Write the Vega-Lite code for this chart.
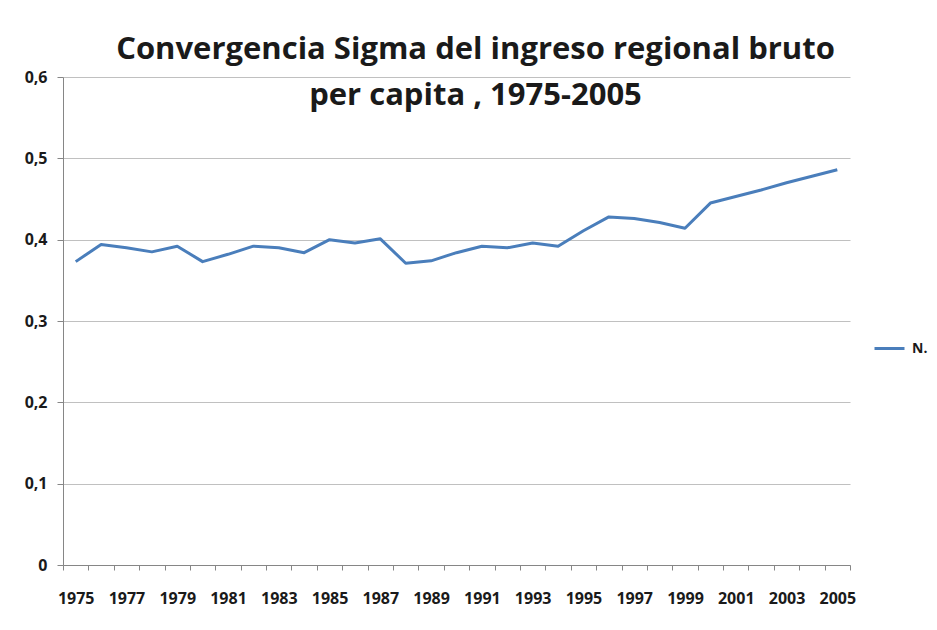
{
  "$schema": "https://vega.github.io/schema/vega-lite/v6.json",
  "width": 787,
  "height": 488,
  "autosize": {"type": "none"},
  "padding": {"left": 63, "top": 77, "right": 87, "bottom": 65},
  "background": "white",
  "title": {
    "text": ["Convergencia Sigma del ingreso regional bruto", "per capita , 1975-2005"],
    "anchor": "middle",
    "frame": "group",
    "font": "Open Sans",
    "fontSize": 31,
    "fontWeight": "bold",
    "color": "#1a1a1a",
    "lineHeight": 46,
    "baseline": "alphabetic",
    "offset": 0,
    "dy": 67,
    "dx": 19
  },
  "data": {
    "values": [
      {"anio": 1975, "valor": 0.373, "serie": "N."},
      {"anio": 1976, "valor": 0.394, "serie": "N."},
      {"anio": 1977, "valor": 0.390, "serie": "N."},
      {"anio": 1978, "valor": 0.385, "serie": "N."},
      {"anio": 1979, "valor": 0.392, "serie": "N."},
      {"anio": 1980, "valor": 0.373, "serie": "N."},
      {"anio": 1981, "valor": 0.382, "serie": "N."},
      {"anio": 1982, "valor": 0.392, "serie": "N."},
      {"anio": 1983, "valor": 0.390, "serie": "N."},
      {"anio": 1984, "valor": 0.384, "serie": "N."},
      {"anio": 1985, "valor": 0.400, "serie": "N."},
      {"anio": 1986, "valor": 0.396, "serie": "N."},
      {"anio": 1987, "valor": 0.401, "serie": "N."},
      {"anio": 1988, "valor": 0.371, "serie": "N."},
      {"anio": 1989, "valor": 0.374, "serie": "N."},
      {"anio": 1990, "valor": 0.384, "serie": "N."},
      {"anio": 1991, "valor": 0.392, "serie": "N."},
      {"anio": 1992, "valor": 0.390, "serie": "N."},
      {"anio": 1993, "valor": 0.396, "serie": "N."},
      {"anio": 1994, "valor": 0.392, "serie": "N."},
      {"anio": 1995, "valor": 0.411, "serie": "N."},
      {"anio": 1996, "valor": 0.428, "serie": "N."},
      {"anio": 1997, "valor": 0.426, "serie": "N."},
      {"anio": 1998, "valor": 0.421, "serie": "N."},
      {"anio": 1999, "valor": 0.414, "serie": "N."},
      {"anio": 2000, "valor": 0.445, "serie": "N."},
      {"anio": 2001, "valor": 0.453, "serie": "N."},
      {"anio": 2002, "valor": 0.461, "serie": "N."},
      {"anio": 2003, "valor": 0.470, "serie": "N."},
      {"anio": 2004, "valor": 0.478, "serie": "N."},
      {"anio": 2005, "valor": 0.486, "serie": "N."}
    ]
  },
  "mark": {"type": "line", "strokeWidth": 3, "strokeJoin": "round"},
  "encoding": {
    "x": {
      "field": "anio",
      "type": "quantitative",
      "title": null,
      "scale": {"domain": [1974.5, 2005.5], "nice": false, "zero": false},
      "axis": {
        "values": [1974.5, 1975, 1975.5, 1976, 1976.5, 1977, 1977.5, 1978, 1978.5, 1979, 1979.5, 1980, 1980.5, 1981, 1981.5, 1982, 1982.5, 1983, 1983.5, 1984, 1984.5, 1985, 1985.5, 1986, 1986.5, 1987, 1987.5, 1988, 1988.5, 1989, 1989.5, 1990, 1990.5, 1991, 1991.5, 1992, 1992.5, 1993, 1993.5, 1994, 1994.5, 1995, 1995.5, 1996, 1996.5, 1997, 1997.5, 1998, 1998.5, 1999, 1999.5, 2000, 2000.5, 2001, 2001.5, 2002, 2002.5, 2003, 2003.5, 2004, 2004.5, 2005, 2005.5],
        "labelExpr": "(datum.value % 1 === 0 && datum.value % 2 === 1) ? toString(datum.value) : ''",
        "tickOpacity": {"condition": {"test": "datum.value % 1 === 0", "value": 0}, "value": 1},
        "tickSize": 5,
        "tickColor": "#868686",
        "domainColor": "#868686",
        "grid": false,
        "labelOverlap": false,
        "labelBound": false,
        "labelFlush": false,
        "labelFont": "Open Sans",
        "labelFontSize": 16,
        "labelFontWeight": "bold",
        "labelColor": "#1a1a1a",
        "labelPadding": 20
      }
    },
    "y": {
      "field": "valor",
      "type": "quantitative",
      "title": null,
      "scale": {"domain": [0, 0.6], "nice": false},
      "axis": {
        "values": [0, 0.1, 0.2, 0.3, 0.4, 0.5, 0.6],
        "labelExpr": "datum.value === 0 ? '0' : replace(format(datum.value, '.1f'), '.', ',')",
        "tickSize": 6,
        "tickColor": "#868686",
        "domainColor": "#868686",
        "gridColor": "#c0c0c0",
        "gridWidth": 1.2,
        "labelFont": "Open Sans",
        "labelFontSize": 16,
        "labelFontWeight": "bold",
        "labelColor": "#1a1a1a",
        "labelPadding": 10
      }
    },
    "color": {
      "field": "serie",
      "type": "nominal",
      "scale": {"range": ["#4A7EBB"]},
      "legend": {
        "title": null,
        "orient": "none",
        "legendX": 810,
        "legendY": 255,
        "padding": 0,
        "symbolType": "stroke",
        "symbolSize": 900,
        "symbolStrokeWidth": 3,
        "labelFont": "Open Sans",
        "labelFontSize": 14,
        "labelFontWeight": "bold",
        "labelColor": "#1a1a1a",
        "labelOffset": 6
      }
    }
  },
  "config": {"view": {"stroke": null}}
}
